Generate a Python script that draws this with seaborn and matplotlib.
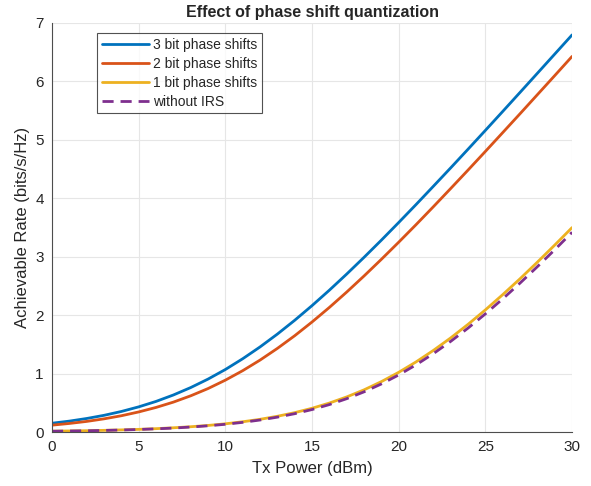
import numpy as np
import pandas as pd
import matplotlib
matplotlib.use('Agg')
import matplotlib.pyplot as plt
import seaborn as sns

# ── dados ───────────────────────────────────────────────
tx_power = list(range(0, 31))  # dBm

rate_3bit = [0.151, 0.187, 0.232, 0.286, 0.352, 0.431, 0.524, 0.634, 0.761, 0.906,
             1.070, 1.254, 1.456, 1.676, 1.912, 2.163, 2.427, 2.703, 2.989, 3.283,
             3.585, 3.892, 4.205, 4.520, 4.839, 5.161, 5.485, 5.811, 6.138, 6.466,
             6.794]
rate_2bit = [0.118, 0.147, 0.182, 0.226, 0.279, 0.344, 0.421, 0.512, 0.620, 0.744,
             0.888, 1.050, 1.231, 1.431, 1.648, 1.883, 2.132, 2.395, 2.670, 2.955,
             3.248, 3.548, 3.855, 4.167, 4.482, 4.801, 5.123, 5.446, 5.772, 6.098,
             6.426]
rate_1bit = [0.015, 0.019, 0.023, 0.029, 0.037, 0.046, 0.058, 0.073, 0.091, 0.113,
             0.141, 0.176, 0.218, 0.270, 0.332, 0.407, 0.496, 0.601, 0.722, 0.863,
             1.022, 1.200, 1.397, 1.611, 1.843, 2.090, 2.351, 2.623, 2.907, 3.199,
             3.498]
rate_no_irs = [0.014, 0.018, 0.022, 0.028, 0.035, 0.044, 0.055, 0.068, 0.086, 0.107,
               0.133, 0.166, 0.206, 0.255, 0.314, 0.385, 0.470, 0.571, 0.688, 0.823,
               0.977, 1.150, 1.342, 1.552, 1.779, 2.022, 2.279, 2.549, 2.830, 3.119,
               3.417]

labels = ['3 bit phase shifts', '2 bit phase shifts', '1 bit phase shifts', 'without IRS']
colors = ['#0072BD', '#D95319', '#EDB120', '#7E2F8E']

df = pd.DataFrame({
    'Tx Power (dBm)': tx_power * 4,
    'rate': rate_3bit + rate_2bit + rate_1bit + rate_no_irs,
    'curve': sum([[lab] * len(tx_power) for lab in labels], []),
})

# ── estilo ──────────────────────────────────────────────
sns.set_style('white')
plt.rcParams['font.family'] = ['Liberation Sans', 'DejaVu Sans']

fig = plt.figure(figsize=(5.91, 4.86), dpi=100)
ax = fig.add_axes([0.088, 0.111, 0.880, 0.842])

sns.lineplot(data=df, x='Tx Power (dBm)', y='rate', hue='curve', style='curve',
             hue_order=labels, style_order=labels, palette=colors,
             dashes={labels[0]: '', labels[1]: '', labels[2]: '', labels[3]: (4, 2.5)},
             linewidth=2, ax=ax)

ax.set_xlim(0, 30)
ax.set_ylim(0, 7)
ax.set_xticks(range(0, 31, 5))
ax.set_yticks(range(0, 8))
ax.grid(True, color='#E6E6E6', linewidth=0.8)
for s in ['top', 'right']:
    ax.spines[s].set_visible(False)
for s in ['left', 'bottom']:
    ax.spines[s].set_color('#4D4D4D')
    ax.spines[s].set_linewidth(0.8)
ax.tick_params(direction='in', length=4, width=0.8, color='#4D4D4D',
               labelsize=11, labelcolor='#262626', pad=6)

ax.set_xlabel('Tx Power (dBm)', fontsize=12, color='#262626', labelpad=5)
ax.set_ylabel('Achievable Rate (bits/s/Hz)', fontsize=12, color='#262626')
ax.set_title('Effect of phase shift quantization', fontsize=11.5,
             fontweight='bold', pad=4)

leg = ax.legend(loc='upper left', bbox_to_anchor=(0.086, 0.975), fontsize=10,
                frameon=True, fancybox=False, handlelength=3.4,
                borderpad=0.35, labelspacing=0.35, handletextpad=0.3,
                borderaxespad=0)
leg.get_frame().set_edgecolor('#262626')
leg.get_frame().set_linewidth(0.8)
leg.set_title(None)

fig.savefig('out.png', dpi=100)
